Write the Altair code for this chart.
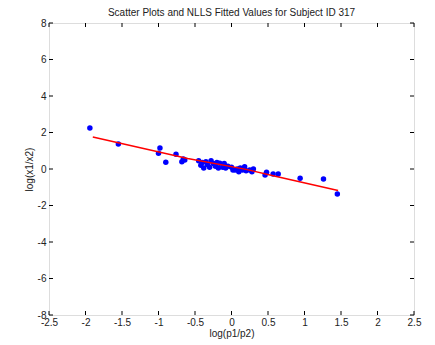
import altair as alt
import pandas as pd

# observed points (log(p1/p2), log(x1/x2))
px = [-1.94, -1.55, -0.98, -1.0, -0.9, -0.76, -0.68, -0.64, -0.66,
      -0.45, -0.42, -0.40, -0.38, -0.35, -0.33, -0.30, -0.28, -0.25, -0.22,
      -0.20, -0.18, -0.16, -0.12, -0.10, -0.08, -0.05, 0.00, 0.02, 0.05,
      0.08, 0.10, 0.12, 0.15, 0.18, 0.20, 0.25, 0.28, 0.30,
      0.46, 0.48, 0.57, 0.64, 0.94, 1.26, 1.45]
py = [2.25, 1.37, 1.15, 0.86, 0.37, 0.81, 0.40, 0.49, 0.55,
      0.45, 0.20, 0.35, 0.05, 0.40, 0.25, 0.10, 0.45, 0.30, 0.15,
      0.35, 0.05, 0.31, 0.10, 0.30, 0.05, 0.15, 0.10, -0.05, -0.05,
      0.00, -0.15, 0.05, -0.05, 0.13, -0.10, -0.05, -0.15, 0.00,
      -0.33, -0.18, -0.27, -0.27, -0.51, -0.55, -1.37]

# fitted values (NLLS)
fx = [-1.90, -0.60, 0.20, 0.60, 1.46]
fy = [1.75, 0.58, -0.02, -0.40, -1.18]

xticks = [-2.5, -2, -1.5, -1, -0.5, 0, 0.5, 1, 1.5, 2, 2.5]
yticks = [-8, -6, -4, -2, 0, 2, 4, 6, 8]

pts = pd.DataFrame({"x": px, "y": py})
fit = pd.DataFrame({"x": fx, "y": fy})
xt = pd.DataFrame({"t": xticks})
yt = pd.DataFrame({"t": yticks})

xs = alt.Scale(domain=[-2.5, 2.5], nice=False, zero=False)
ys = alt.Scale(domain=[-8, 8], nice=False, zero=False)

FONT = "Liberation Sans"

xaxis = alt.Axis(values=xticks, labelExpr="datum.value + ''", title="log(p1/p2)",
                 grid=False, ticks=False, domain=False, labelPadding=2, titlePadding=1,
                 labelFontSize=10, titleFontSize=10, labelFont=FONT, titleFont=FONT,
                 titleFontWeight="normal", labelColor="#222", titleColor="#222",
                 labelFlush=False, labelOverlap=False, labelBound=False)
yaxis = alt.Axis(values=yticks, labelExpr="datum.value + ''", title="log(x1/x2)",
                 grid=False, ticks=False, domain=False, labelPadding=3, titlePadding=3,
                 labelFontSize=10, titleFontSize=10, labelFont=FONT, titleFont=FONT,
                 titleFontWeight="normal", labelColor="#222", titleColor="#222",
                 labelFlush=False, labelOverlap=False, labelBound=False)

base = alt.Chart(pts).mark_point(filled=True, color="#0000ff", size=30, opacity=1).encode(
    x=alt.X("x:Q", scale=xs, axis=xaxis),
    y=alt.Y("y:Q", scale=ys, axis=yaxis),
)

line = alt.Chart(fit).mark_line(color="#ff0000", strokeWidth=1.5).encode(
    x=alt.X("x:Q", scale=xs, axis=xaxis), y=alt.Y("y:Q", scale=ys, axis=yaxis)
)

tb = alt.Chart(xt).mark_rule(color="#000", strokeWidth=1).encode(
    x=alt.X("t:Q", scale=xs, axis=xaxis), y=alt.value(292), y2=alt.value(288))
tt = alt.Chart(xt).mark_rule(color="#000", strokeWidth=1).encode(
    x=alt.X("t:Q", scale=xs, axis=xaxis), y=alt.value(0), y2=alt.value(4))
tl = alt.Chart(yt).mark_rule(color="#000", strokeWidth=1).encode(
    y=alt.Y("t:Q", scale=ys, axis=yaxis), x=alt.value(0), x2=alt.value(4))
tr = alt.Chart(yt).mark_rule(color="#000", strokeWidth=1).encode(
    y=alt.Y("t:Q", scale=ys, axis=yaxis), x=alt.value(365), x2=alt.value(361))

chart = alt.layer(base, tb, tt, tl, tr, line).properties(
    width=365, height=292,
    title=alt.TitleParams("Scatter Plots and NLLS Fitted Values for Subject ID 317",
                          fontSize=10, font=FONT, fontWeight="normal", color="#222",
                          offset=0),
    autosize=alt.AutoSizeParams(type="none"),
    padding={"left": 49, "top": 23, "right": 21, "bottom": 30},
).configure_view(stroke="#000", strokeWidth=1).configure(background="white")

chart.save("out.html", embed_options={"renderer": "svg", "actions": False})
